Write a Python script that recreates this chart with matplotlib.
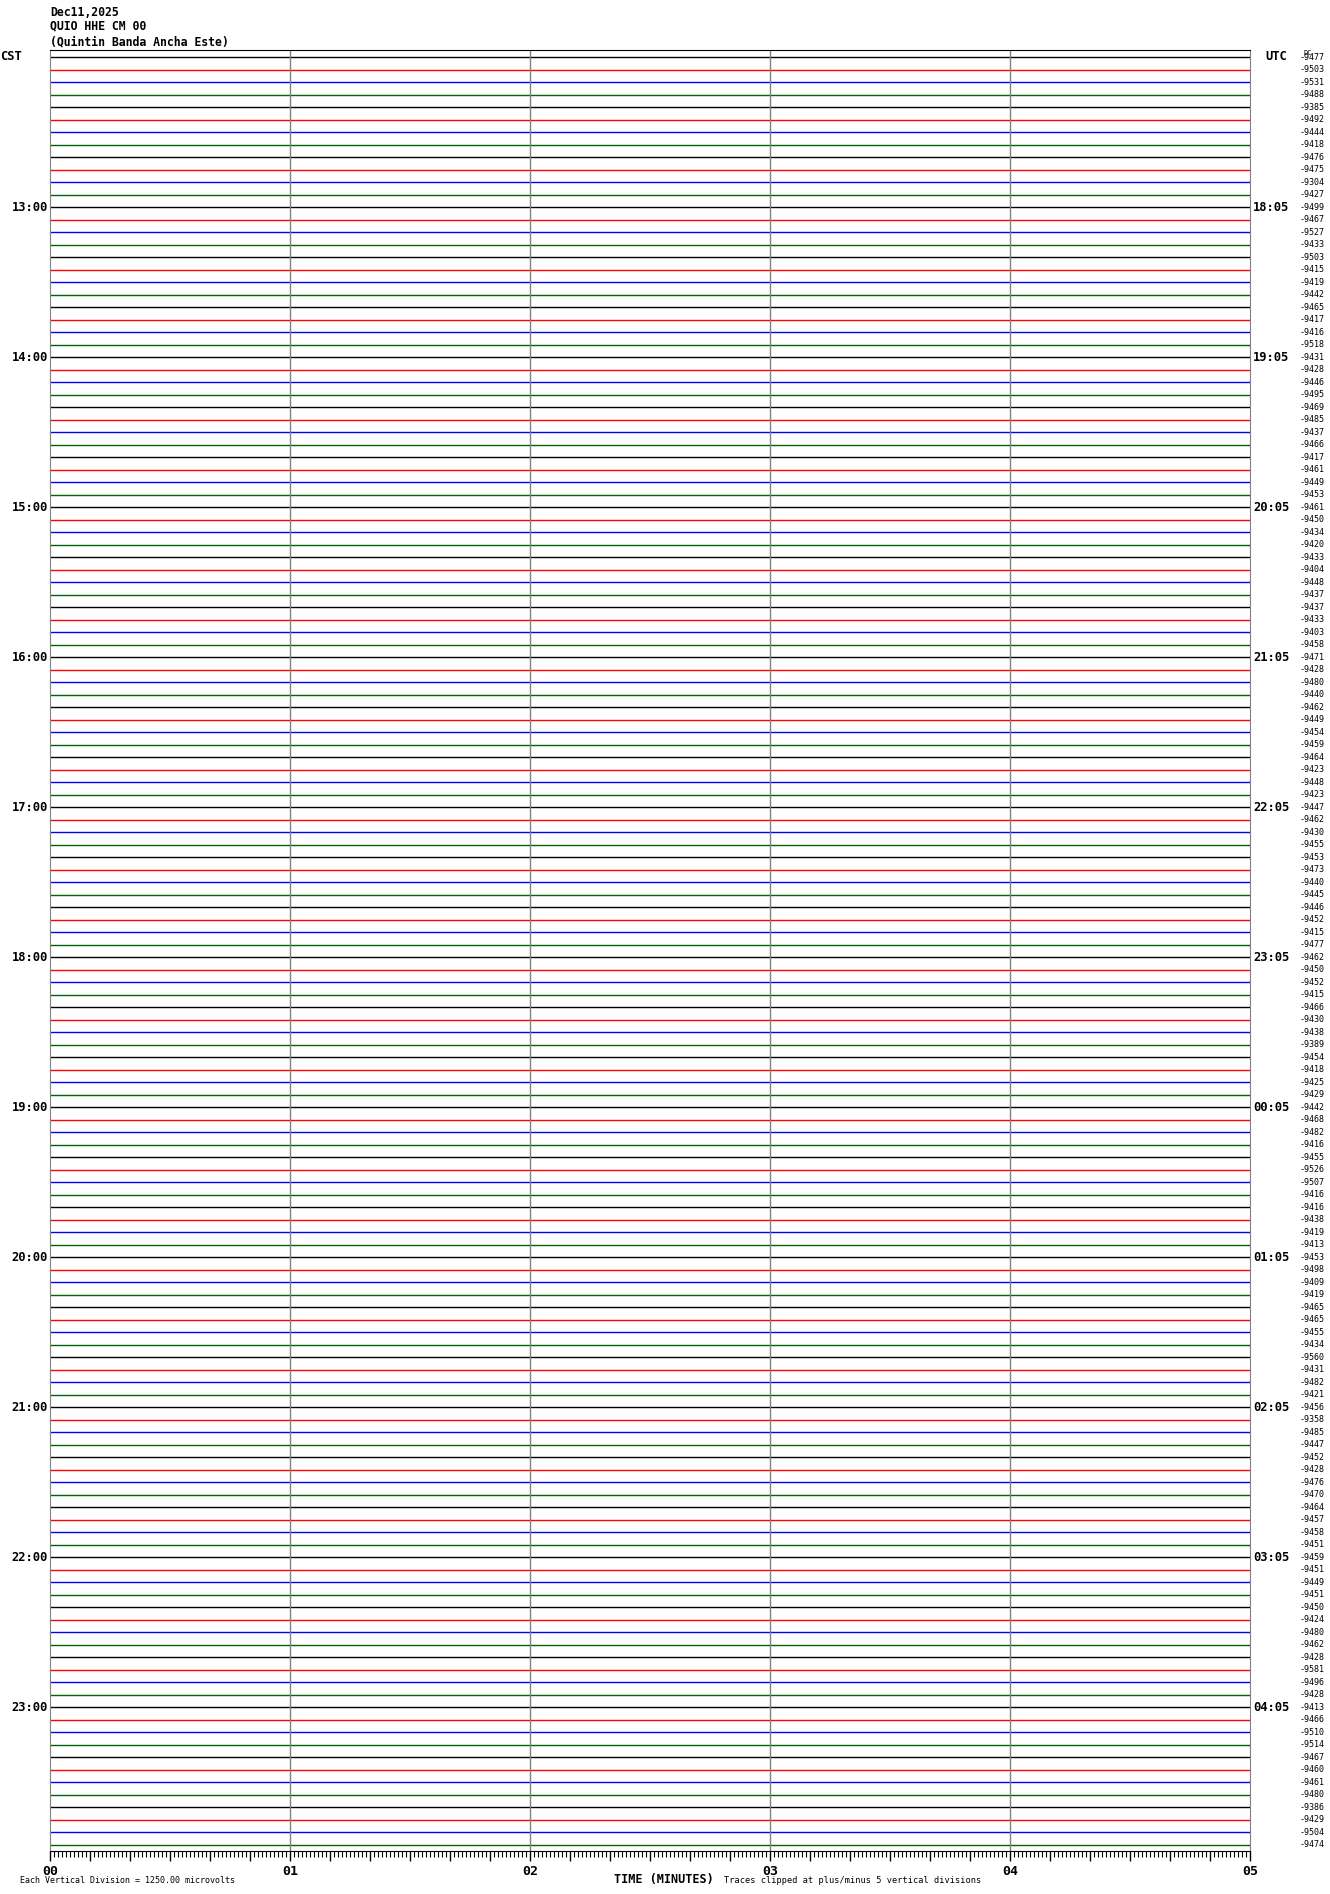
import matplotlib
matplotlib.use('Agg')
import matplotlib.pyplot as plt

# header text
station_date = 'Dec11,2025'
station_code = 'QUIO HHE CM 00'
station_name = '(Quintin Banda Ancha Este)'

# dc offset printed at the right end of every 5 minute trace (12:00 to 23:55 CST)
dc_offsets = [
    -9477, -9503, -9531, -9488, -9385, -9492, -9444, -9418, -9476, -9475, -9304, -9427,
    -9499, -9467, -9527, -9433, -9503, -9415, -9419, -9442, -9465, -9417, -9416, -9518,
    -9431, -9428, -9446, -9495, -9469, -9485, -9437, -9466, -9417, -9461, -9449, -9453,
    -9461, -9450, -9434, -9420, -9433, -9404, -9448, -9437, -9437, -9433, -9403, -9458,
    -9471, -9428, -9480, -9440, -9462, -9449, -9454, -9459, -9464, -9423, -9448, -9423,
    -9447, -9462, -9430, -9455, -9453, -9473, -9440, -9445, -9446, -9452, -9415, -9477,
    -9462, -9450, -9452, -9415, -9466, -9430, -9438, -9389, -9454, -9418, -9425, -9429,
    -9442, -9468, -9482, -9416, -9455, -9526, -9507, -9416, -9416, -9438, -9419, -9413,
    -9453, -9498, -9409, -9419, -9465, -9465, -9455, -9434, -9560, -9431, -9482, -9421,
    -9456, -9358, -9485, -9447, -9452, -9428, -9476, -9470, -9464, -9457, -9458, -9451,
    -9459, -9451, -9449, -9451, -9450, -9424, -9480, -9462, -9428, -9581, -9496, -9428,
    -9413, -9466, -9510, -9514, -9467, -9460, -9461, -9480, -9386, -9429, -9504, -9474,
]

# hour labels on both sides (one every 12 traces, starting at 13:00 CST)
cst_labels = ['13:00', '14:00', '15:00', '16:00', '17:00', '18:00',
              '19:00', '20:00', '21:00', '22:00', '23:00']
utc_labels = ['18:05', '19:05', '20:05', '21:05', '22:05', '23:05',
              '00:05', '01:05', '02:05', '03:05', '04:05']
minute_labels = ['00', '01', '02', '03', '04', '05']

trace_colors = ['black', 'red', 'blue', '#006400']
mono = 'DejaVu Sans Mono'

W, H = 1330, 1894
fig = plt.figure(figsize=(W / 100, H / 100), dpi=100)
fig.patch.set_facecolor('white')

# plot box in pixels: x 50..1250, y 50..1851
ax = fig.add_axes([50 / W, 1 - 1851 / H, 1200 / W, 1801 / H])
ax.set_xlim(0, 5)
ax.set_ylim(143.52, -0.56)

# one flat trace per row, colours cycle black/red/blue/green
for i, dc in enumerate(dc_offsets):
    ax.plot([0, 5], [i, i], color=trace_colors[i % 4], lw=1.0, solid_capstyle='butt')
    ax.text(5.208, i, str(dc), fontsize=6, family=mono, ha='left', va='center',
            clip_on=False)

# minute grid
for m in range(1, 5):
    ax.axvline(m, color='#808080', lw=1)

for side in ['left', 'right']:
    ax.spines[side].set_color('#808080')
ax.spines['top'].set_color('black')
ax.spines['bottom'].set_color('black')

# hour labels
for k, (c, u) in enumerate(zip(cst_labels, utc_labels)):
    row = 12 * (k + 1)
    ax.text(-0.008, row, c, fontsize=8.7, family=mono, weight='bold',
            ha='right', va='center', clip_on=False)
    ax.text(5.0125, row, u, fontsize=8.7, family=mono, weight='bold',
            ha='left', va='center', clip_on=False)

# x ticks: seconds, 10 s marks, minute labels
ax.set_yticks([])
ax.set_xticks([s / 60 for s in range(0, 301, 10)])
ax.set_xticklabels([minute_labels[s // 60] if s % 60 == 0 else '' for s in range(0, 301, 10)],
                   fontsize=9.5, family=mono, weight='bold')
ax.set_xticks([s / 60 for s in range(0, 301)], minor=True)
ax.tick_params(axis='x', which='major', length=7, width=1, direction='out', pad=3)
ax.tick_params(axis='x', which='minor', length=4, width=0.8, direction='out')

# header and footer text
fig.text(50 / W, 1 - 12 / H, station_date, fontsize=8.3, family=mono, weight='bold', va='center')
fig.text(50 / W, 1 - 26 / H, station_code, fontsize=8.3, family=mono, weight='bold', va='center')
fig.text(50 / W, 1 - 42 / H, station_name, fontsize=8.3, family=mono, weight='bold', va='center')
fig.text(0 / W, 1 - 57 / H, 'CST', fontsize=8.7, family=mono, weight='bold', va='center')
fig.text(1265 / W, 1 - 57 / H, 'UTC', fontsize=8.7, family=mono, weight='bold', va='center')
fig.text(1304 / W, 1 - 53 / H, 'DC', fontsize=5, family=mono, va='center')
fig.text(20 / W, 1 - 1880 / H, 'Each Vertical Division = 1250.00 microvolts',
         fontsize=6, family=mono, va='center')
fig.text(614 / W, 1 - 1879 / H, 'TIME (MINUTES)', fontsize=8.5, family=mono,
         weight='bold', va='center')
fig.text(724 / W, 1 - 1880 / H, 'Traces clipped at plus/minus 5 vertical divisions',
         fontsize=6.2, family=mono, va='center')

fig.savefig('out.png', dpi=100)
